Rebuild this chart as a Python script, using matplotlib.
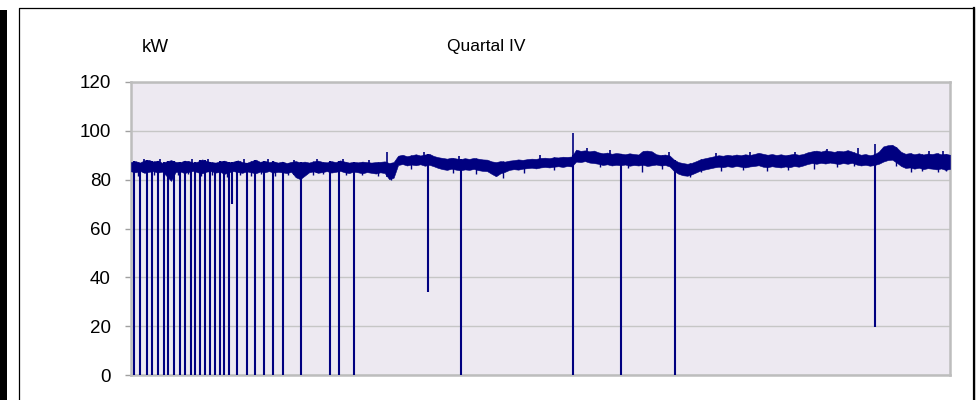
import numpy as np
import matplotlib.pyplot as plt
from matplotlib.lines import Line2D
from matplotlib.patches import Rectangle

plt.rcParams['font.family'] = ['Liberation Sans', 'DejaVu Sans']

# days of the quarter, sampled every half day
days = np.arange(0, 92.01, 0.5)

# upper edge of the load band (kW)
band_hi = [
    87.2, 87.6, 87.0, 87.9, 88.1, 87.4, 87.8, 86.9, 87.5, 88.0,
    87.3, 87.1, 87.8, 87.6, 87.0, 87.4, 88.3, 87.6, 87.2, 87.0,
    87.5, 87.8, 87.1, 87.4, 87.9, 87.2, 86.9, 87.6, 88.2, 87.3,
    87.7, 87.2, 87.5, 87.0, 87.4, 86.8, 87.3, 87.6, 87.1, 87.4,
    87.0, 87.5, 87.8, 87.3, 87.1, 87.6, 87.2, 87.9, 87.4, 87.0,
    87.3, 87.1, 87.4, 87.2, 87.0, 87.2, 87.3, 87.5, 86.8, 87.2,
    89.8, 90.2, 89.6, 90.0, 90.4, 89.9, 90.3, 90.6, 89.7, 89.2,
    88.9, 88.6, 89.0, 88.7, 88.4, 88.8, 88.5, 88.9, 88.6, 88.3,
    88.2, 87.5, 87.2, 87.6, 87.4, 87.8, 88.0, 88.3, 88.1, 88.4,
    88.6, 88.5, 88.9, 89.0, 88.8, 89.2, 89.1, 89.4, 89.3, 89.5,
    92.3, 91.8, 92.0, 91.6, 91.9, 91.2, 90.8, 91.1, 90.6, 90.9,
    90.7, 90.4, 90.8, 90.5, 90.3, 91.8, 91.9, 91.6, 90.4, 90.1,
    90.3, 89.9, 88.2, 87.2, 86.8, 86.5, 86.9, 87.6, 88.4, 88.8,
    89.2, 89.6, 90.0, 89.8, 90.2, 89.9, 90.3, 90.0, 90.4, 90.1,
    90.5, 91.0, 90.6, 90.2, 90.5, 90.1, 90.4, 90.0, 90.3, 90.6,
    90.2, 90.5, 91.2, 91.6, 91.9, 91.5, 92.0, 91.7, 91.4, 91.8,
    91.6, 92.1, 91.5, 90.8, 90.2, 90.5, 90.0, 90.4, 91.5, 93.6,
    94.1, 94.3, 93.2, 91.4, 90.6, 90.9, 90.4, 90.8, 90.3, 90.7,
    90.5, 90.9, 90.4, 90.6, 90.2,
]

# lower edge of the load band (kW)
band_lo = [
    83.4, 83.0, 83.6, 82.8, 83.2, 83.5, 82.9, 83.3, 81.5, 79.5,
    83.1, 83.4, 82.7, 83.2, 83.6, 83.0, 82.6, 83.3, 83.5, 82.9,
    83.2, 82.4, 83.0, 83.5, 83.1, 82.8, 83.4, 83.0, 82.6, 83.3,
    83.0, 83.5, 82.9, 83.2, 83.0, 82.7, 83.2, 81.0, 80.2, 81.6,
    83.0, 83.4, 82.8, 83.1, 83.5, 82.9, 83.2, 83.6, 83.0, 82.7,
    83.3, 83.0, 82.6, 83.1, 82.8, 82.5, 83.0, 82.7, 80.2, 80.8,
    86.0, 86.4, 85.8, 86.2, 85.9, 86.3, 85.7, 86.1, 85.5, 84.8,
    84.3, 84.0, 84.5, 84.1, 83.8, 84.2, 84.0, 84.4, 83.9, 83.6,
    83.5, 82.4, 81.4, 82.6, 83.2, 84.0, 84.3, 84.1, 84.5, 84.7,
    84.9, 84.6, 85.0, 85.2, 85.0, 85.3, 85.5, 85.2, 85.6, 85.4,
    87.4, 87.2, 87.6, 87.0, 86.8, 86.5, 86.0, 86.3, 85.8, 86.1,
    85.9, 86.2, 85.7, 86.0, 85.8, 86.1, 85.6, 85.9, 86.2, 85.8,
    86.0, 85.4, 83.5, 82.4, 81.8, 81.6, 82.2, 83.0, 83.8, 84.2,
    84.6, 85.0, 85.3, 85.1, 85.5, 85.2, 85.6, 85.3, 85.0, 85.4,
    85.6, 85.9, 85.3, 85.1, 85.5, 85.2, 85.0, 85.4, 85.1, 85.6,
    85.3, 85.8, 86.4, 86.8, 86.5, 86.9, 86.6, 87.0, 86.7, 86.4,
    86.8, 86.5, 86.9, 86.2, 85.8, 86.1, 85.7, 86.0, 86.5, 87.4,
    88.0, 88.2, 87.0, 85.6, 84.8, 85.0, 84.5, 84.9, 84.3, 84.7,
    84.5, 84.2, 84.6, 84.0, 84.4,
]

# outages: load drops (day, lowest kW)
dip_day = [0.37, 1.01, 1.76, 2.33, 3.0, 3.74, 4.19, 4.83, 5.51, 6.07,
           6.71, 7.19, 7.75, 8.31, 8.88, 9.44, 10.0, 10.48, 11.04, 11.31,
           11.94, 13.0, 13.97, 14.98, 15.99, 17.04, 19.1, 22.36, 23.37, 25.06,
           33.37, 37.08, 49.63, 55.06, 61.12, 83.6]
dip_min = [0, 0, 0, 0, 0, 0, 0, 0, 0, 0,
           0, 0, 0, 0, 0, 0, 0, 0, 0, 70,
           0, 0, 0, 0, 0, 0, 0, 0, 0, 0,
           34, 0, 0, 0, 0, 19.5]

# small downward spikes in the noise (day, kW)
low_day = [0.8, 2.6, 5.3, 6.4, 7.9, 9.1, 10.8, 12.3, 13.5, 14.6,
           16.2, 17.6, 20.5, 21.6, 24.2, 26.0, 27.7, 29.2, 31.5, 36.2,
           38.8, 41.8, 44.2, 47.5, 52.7, 55.8, 57.4, 59.6, 62.8, 64.0,
           66.3, 68.7, 71.4, 73.8, 76.7, 79.3, 81.2, 85.9, 87.6, 88.8,
           90.6, 91.5]
low_kw = [81.5, 82.0, 81.8, 82.2, 81.5, 82.0, 81.2, 82.0, 81.6, 82.3,
          81.5, 82.0, 81.8, 82.2, 81.8, 82.0, 81.5, 79.8, 84.5, 82.8,
          82.5, 80.8, 82.8, 83.8, 85.2, 84.7, 83.0, 84.3, 80.9, 83.2,
          83.6, 83.9, 83.5, 84.0, 84.5, 85.2, 85.4, 85.5, 83.0, 83.5,
          83.2, 83.4]

# upward spikes (day, highest kW)
peak_day = [1.5, 3.3, 6.9, 8.6, 12.7, 15.4, 18.3, 20.9, 23.8, 26.7,
            28.8, 32.9, 36.9, 45.9, 49.65, 51.2, 53.8, 60.4, 65.7, 69.5,
            74.6, 78.2, 81.7, 83.6, 89.6, 91.2]
peak_max = [88.6, 88.4, 88.5, 88.6, 88.3, 88.4, 88.2, 88.5, 88.3, 88.1,
            91.4, 91.3, 89.8, 89.9, 99.0, 93.0, 92.2, 91.2, 90.9, 91.4,
            91.3, 92.6, 92.8, 94.6, 91.8, 91.8]

navy = '#000080'

fig = plt.figure(figsize=(9.76, 4.0), dpi=100)
ax = fig.add_axes([131 / 976, 25 / 400, 819 / 976, 293 / 400])
ax.set_facecolor('#EDE9F1')

ax.fill_between(days, band_lo, band_hi, color=navy, lw=0.4, zorder=3)

tops = np.interp(dip_day, days, band_hi)
ax.vlines(dip_day, dip_min, tops, color=navy, lw=1.5, zorder=3)
ax.vlines(low_day, low_kw, np.interp(low_day, days, band_hi), color=navy, lw=1.0, zorder=3)
bots = np.interp(peak_day, days, band_lo)
ax.vlines(peak_day, bots, peak_max, color=navy, lw=1.2, zorder=3)

ax.set_xlim(0, 92)
ax.set_ylim(0, 120)
ax.set_yticks(range(0, 121, 20))
ax.set_xticks([])
ax.grid(axis='y', color='#C6C6C6', lw=1.0)
ax.set_axisbelow(True)
ax.tick_params(axis='y', direction='out', length=4.5, width=1, color='#A0A0A0',
               pad=10, labelsize=13.5, labelcolor='black')
for side in ['left', 'right', 'top', 'bottom']:
    ax.spines[side].set_color('#BDBDBD')
    ax.spines[side].set_linewidth(1.8)

fig.text(155 / 976, 1 - 47 / 400, 'kW', ha='center', va='center', fontsize=13.5)
fig.text(486 / 976, 1 - 47 / 400, 'Quartal IV', ha='center', va='center', fontsize=12.5)

# outer frame and the dark edge on the left
fig.add_artist(Rectangle((0, 0), 7 / 976, 390 / 400, transform=fig.transFigure,
                         color='black', lw=0))
fig.add_artist(Line2D([19 / 976, 19 / 976, 974 / 976, 974 / 976],
                      [0, 392 / 400, 392 / 400, 0], transform=fig.transFigure,
                      color='black', lw=0.9))
fig.add_artist(Line2D([974 / 976, 974 / 976], [0, 392 / 400],
                      transform=fig.transFigure, color='black', lw=1.6))

fig.savefig('out.png', dpi=100)
